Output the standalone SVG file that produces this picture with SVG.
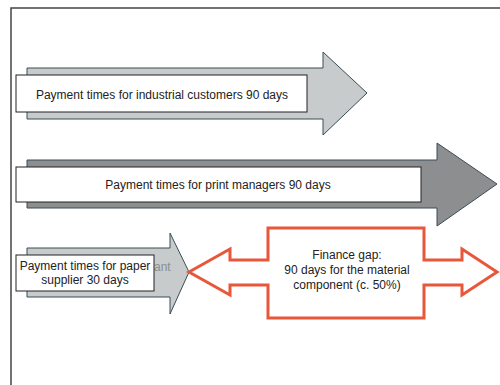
<svg xmlns="http://www.w3.org/2000/svg" width="500" height="385" viewBox="0 0 500 385">
  <style>
    .frame { fill: none; stroke: #444; stroke-width: 1.5; }
    .arrow { stroke: #3b4c55; stroke-width: 1; stroke-linejoin: miter; }
    .light { fill: #c8cbcc; }
    .dark { fill: #8d8e8f; }
    .box { fill: #ffffff; stroke: #222; stroke-width: 1; }
    .gap { fill: #ffffff; stroke: #e8573a; stroke-width: 3; stroke-linejoin: miter; }
    text { font-family: "Liberation Sans", Arial, sans-serif; font-size: 12px; fill: #222; text-anchor: middle; }
    .faint { fill: #8a8f92; text-anchor: start; }
  </style>

  <rect width="500" height="385" fill="#ffffff"/>
  <path class="frame" d="M11,385 V8 H500"/>

  <g id="connectors">
    <!-- industrial customers: 90 days -->
    <polygon class="arrow light" points="27,68 323,68 323,52 367,93 323,135 323,119 27,119"/>
    <!-- print managers: 90 days -->
    <polygon class="arrow dark" points="27,160 437,160 437,143 497,184 437,226 437,208 27,208"/>
    <!-- paper supplier: 30 days -->
    <polygon class="arrow light" points="27,248 170,248 170,233 189,272 170,314 170,297 27,297"/>
    <!-- finance gap double arrow -->
    <polygon class="gap" points="189,272 230,249 230,260 268,260 268,228 424,228 424,260 462,260 462,249 497,272 462,295 462,285 424,285 424,318 268,318 268,285 230,285 230,295"/>
  </g>

  <g id="node-industrial">
    <rect class="box" x="16" y="75" width="291" height="37"/>
    <text x="162" y="99">Payment times for industrial customers 90 days</text>
  </g>

  <g id="node-print">
    <rect class="box" x="16" y="167" width="405" height="35"/>
    <text x="218" y="189">Payment times for print managers 90 days</text>
  </g>

  <g id="node-paper">
    <text class="faint" x="154" y="271">ant</text>
    <rect class="box" x="16" y="255" width="138" height="36"/>
    <text x="85" y="270">Payment times for paper</text>
    <text x="85" y="284">supplier 30 days</text>
  </g>

  <g id="node-gap">
    <text x="347" y="259">Finance gap:</text>
    <text x="347" y="274">90 days for the material</text>
    <text x="347" y="289">component (c. 50%)</text>
  </g>
</svg>
